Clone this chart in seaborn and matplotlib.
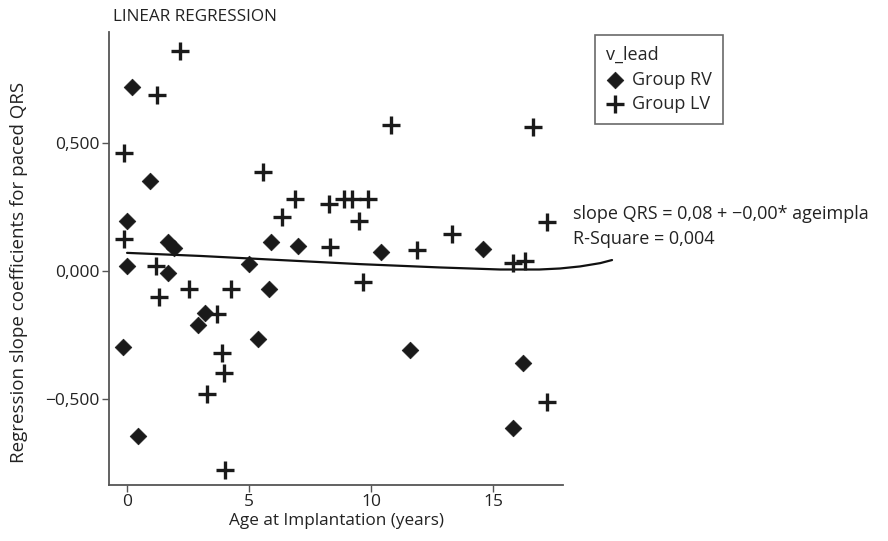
# Import packages
import matplotlib
matplotlib.use("Agg")
import matplotlib.pyplot as plt
import numpy as np
import pandas as pd
import seaborn as sns
from matplotlib.ticker import FuncFormatter

# Data: age at implantation (years) vs regression slope
rv_age = [0.22, 0.94, -0.01, 1.69, 1.93, -0.01, 1.69, 5.01, 5.91, 7.0, 5.82,
          3.2, 2.92, 5.38, -0.15, 0.46, 10.39, 11.6, 14.6, 16.24, 15.8]
rv_slope = [0.72, 0.35, 0.197, 0.115, 0.089, 0.02, -0.009, 0.026, 0.112, 0.098, -0.072,
            -0.165, -0.21, -0.267, -0.296, -0.645, 0.075, -0.309, 0.086, -0.36, -0.615]
lv_age = [-0.12, 2.17, 1.24, 5.59, 6.89, 6.35, -0.12, 1.19, 1.33, 2.55, 4.25,
          3.68, 3.88, 3.97, 3.27, 4.02, 10.82, 8.29, 8.91, 9.21, 9.89,
          9.51, 8.32, 11.87, 13.3, 9.69, 16.63, 17.2, 15.83, 16.31, 17.23]
lv_slope = [0.46, 0.86, 0.686, 0.387, 0.28, 0.21, 0.124, 0.021, -0.10, -0.072, -0.072,
            -0.168, -0.32, -0.40, -0.48, -0.777, 0.57, 0.26, 0.28, 0.28, 0.28,
            0.195, 0.095, 0.082, 0.143, -0.044, 0.561, 0.19, 0.03, 0.04, -0.51]
groups = ["Group RV", "Group LV"]

# Fit curve
fit_age = [0.0, 3.0, 6.27, 9.55, 12.83, 15.29, 16.9, 17.75, 18.57, 19.4, 19.88]
fit_slope = [0.071, 0.059, 0.043, 0.027, 0.014, 0.006, 0.006, 0.01, 0.018, 0.031, 0.043]

yticks = [-0.5, 0.0, 0.5]
xticks = [0, 5, 10, 15]

df = pd.DataFrame({"ageimpla": rv_age + lv_age,
                   "slope_QRS": rv_slope + lv_slope,
                   "v_lead": [groups[0]] * len(rv_age) + [groups[1]] * len(lv_age)})
df_fit = pd.DataFrame({"ageimpla": fit_age, "slope_QRS": fit_slope})

# Set up figure parameters
sns.set_style("ticks")
plt.rcParams["font.family"] = ["Open Sans", "DejaVu Sans"]
grey = "#555555"; ink = "#222222"

fig = plt.figure(figsize=(8.88, 5.41), dpi=100)
ax = fig.add_axes([109/888, 1-485/541, (563-109)/888, (485-32)/541])

# Points, one call per group (filled diamond + line-art plus)
sns.scatterplot(data=df[df.v_lead == groups[0]], x="ageimpla", y="slope_QRS", ax=ax,
                marker="D", s=72, color="#1a1a1a", edgecolor="#1a1a1a", linewidth=0.5,
                label=groups[0], zorder=3)
sns.scatterplot(data=df[df.v_lead == groups[1]], x="ageimpla", y="slope_QRS", ax=ax,
                marker="+", s=160, color="#1a1a1a", linewidth=2.4,
                label=groups[1], zorder=3)

# Regression line (runs past the axis end, as in the original)
sns.lineplot(data=df_fit, x="ageimpla", y="slope_QRS", ax=ax, color="#111111",
             linewidth=1.6, sort=False, estimator=None, legend=False, clip_on=False, zorder=2)

ax.set_xlim(-0.74, 17.87); ax.set_ylim(-0.836, 0.934)
ax.set_xticks(xticks); ax.set_yticks(yticks)
ax.yaxis.set_major_formatter(FuncFormatter(lambda v, p: ("%.3f" % v).replace(".", ",").replace("-", "\u2212")))
ax.xaxis.set_major_formatter(FuncFormatter(lambda v, p: "%d" % v))
ax.tick_params(axis="both", direction="out", length=5, width=1, color=grey, labelsize=12.5, labelcolor=ink, pad=1.5)
sns.despine(ax=ax)
for side in ["left", "bottom"]:
    ax.spines[side].set_color(grey); ax.spines[side].set_linewidth(1.3)

ax.set_xlabel("Age at Implantation (years)", fontsize=12.3, color=ink, labelpad=2)
ax.set_ylabel("Regression slope coefficients for paced QRS", fontsize=13.5, color=ink)
ax.yaxis.set_label_coords(-0.178, 0.47)
fig.text(113/888, 1-17/541, "LINEAR REGRESSION", fontsize=12.3, color=ink, va="center", ha="left")

# Legend box at top right
leg = ax.legend(title="v_lead", loc="upper left", bbox_to_anchor=(595/888, 1-35/541),
                bbox_transform=fig.transFigure, borderaxespad=0, frameon=True, fancybox=False,
                edgecolor="#444444", fontsize=13, title_fontsize=13, alignment="left",
                handletextpad=0.45, handlelength=1.0, borderpad=0.62, labelspacing=0.36)
leg.get_frame().set_linewidth(1.2)

# Fit annotation
fig.text(573/888, 1-214/541, "slope QRS = 0,08 + \u22120,00* ageimpla", fontsize=13, color=ink, va="center")
fig.text(573/888, 1-239/541, "R-Square = 0,004", fontsize=13, color=ink, va="center")

fig.savefig("out.png", dpi=100)
